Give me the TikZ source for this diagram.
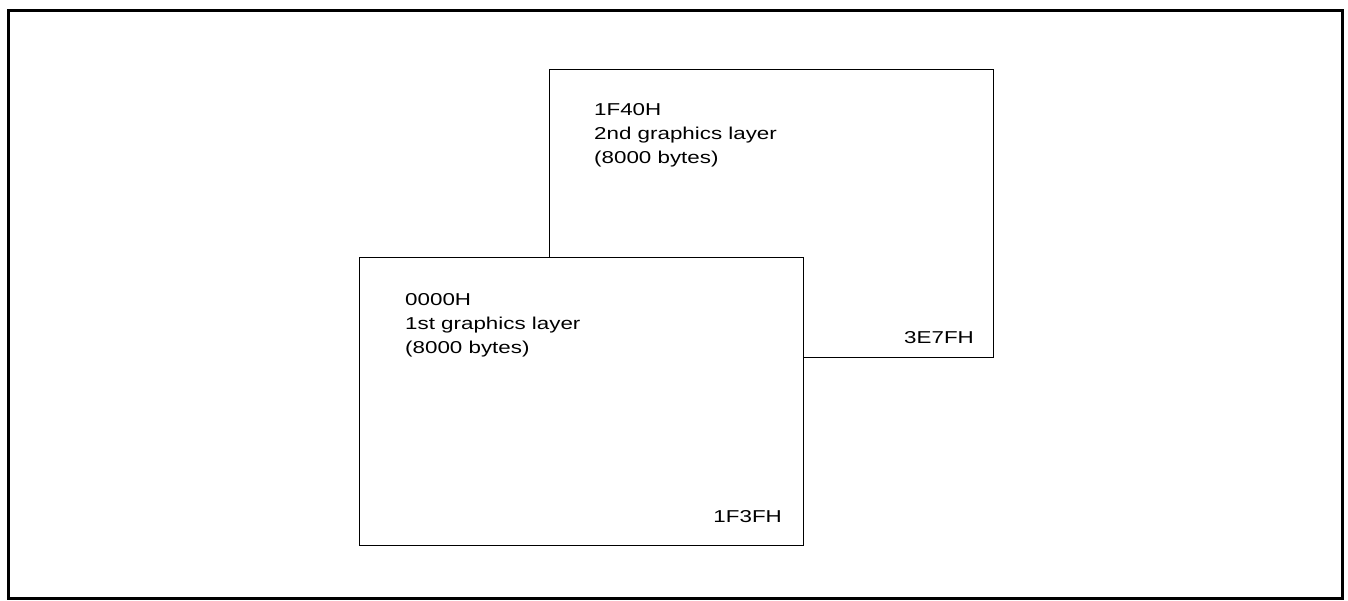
\documentclass[tikz,border=0pt]{standalone}
\usepackage{fontspec}
\newfontfamily\lab[FakeStretch=1.3]{Liberation Sans}
\tikzset{
  layer/.style={draw=black, line width=1.4pt, fill=white, minimum width=444pt, minimum height=288pt, anchor=north west, inner sep=0pt},
  lbl/.style={font=\lab\fontsize{17.2}{24}\selectfont, inner sep=0pt, align=left},
  frame/.style={draw=black, line width=3pt}
}
\begin{document}
\begin{tikzpicture}[x=1pt,y=-1pt]
\useasboundingbox (0,0) rectangle (1348,601);
\node[frame, minimum width=1334pt, minimum height=588pt, anchor=north west, inner sep=0pt] (outer) at (7,9) {};
\node[layer] (back) at (549,69) {};
\node[lbl, anchor=base west] (backtxt) at (594,164) {1F40H\\2nd graphics layer\\(8000 bytes)};
\node[lbl, anchor=base east] (backend) at (974,343) {3E7FH};
\node[layer] (front) at (359,257) {};
\node[lbl, anchor=base west] (fronttxt) at (405,353.5) {0000H\\1st graphics layer\\(8000 bytes)};
\node[lbl, anchor=base east] (frontend) at (782,522) {1F3FH};
\end{tikzpicture}
\end{document}
